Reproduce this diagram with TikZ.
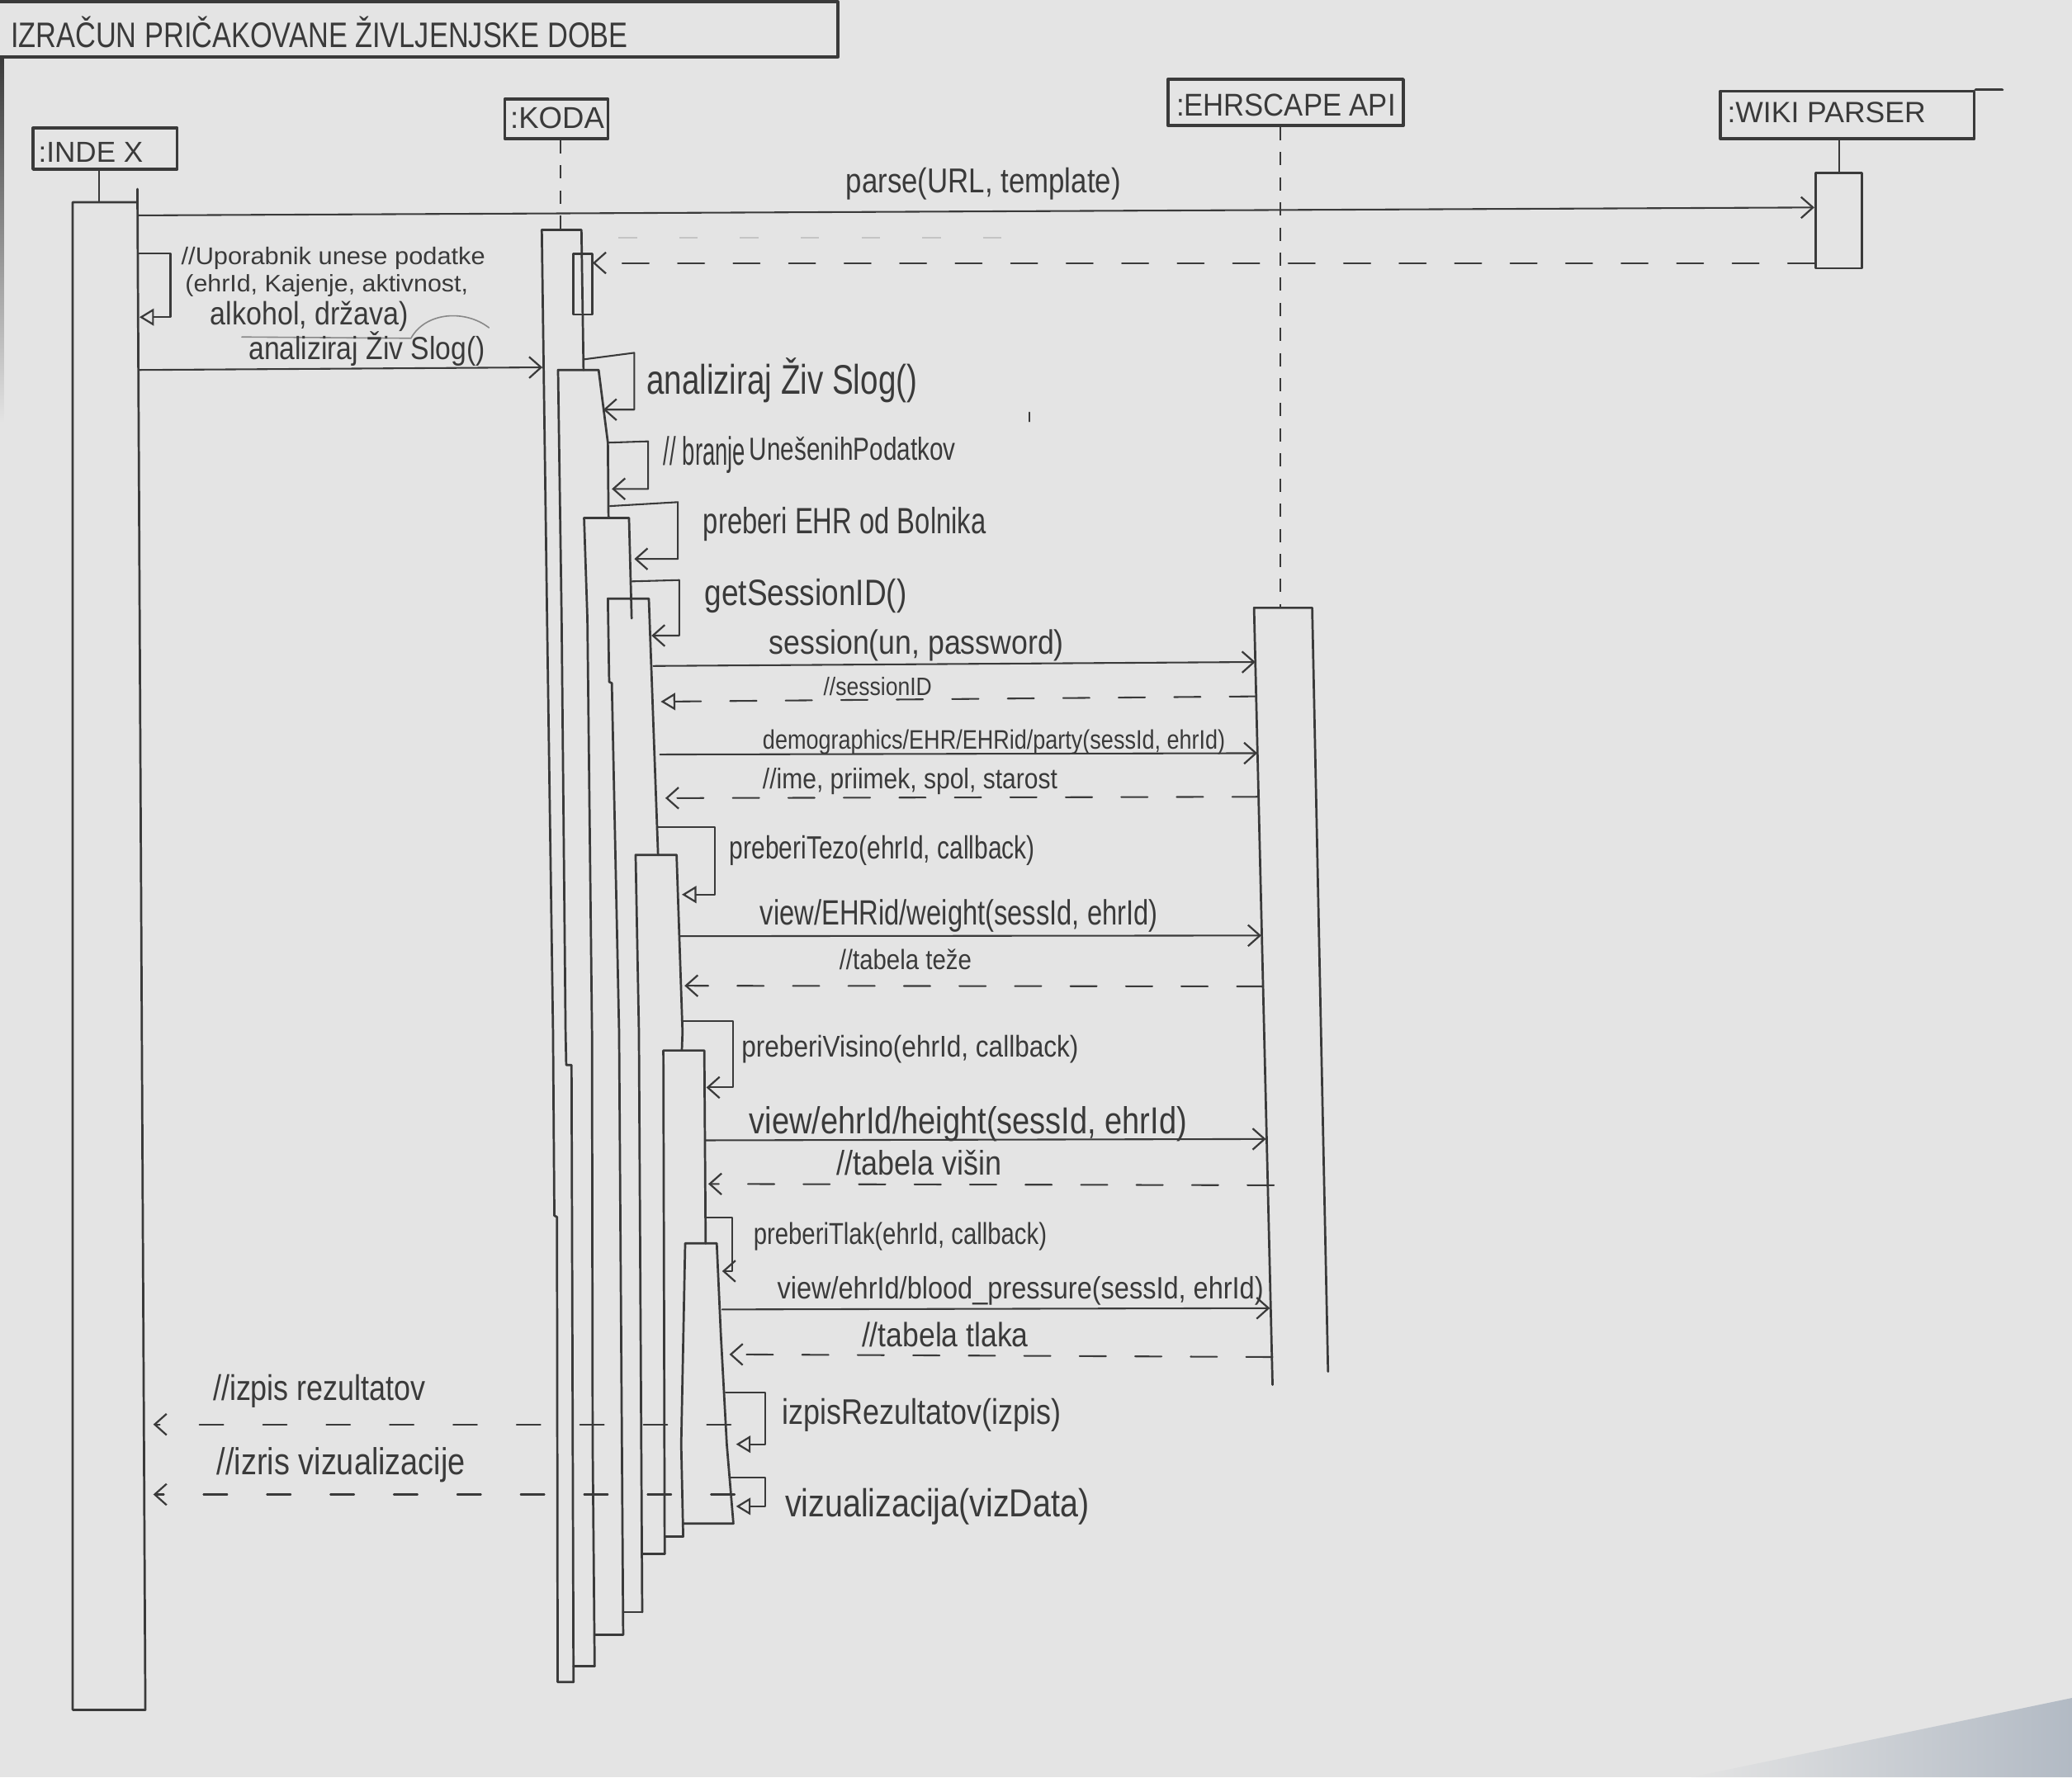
\documentclass[tikz,border=0pt]{standalone}
\usepackage{fontspec}
\setmainfont{Liberation Sans}
\usepackage{graphicx}
\usetikzlibrary{arrows.meta}
\definecolor{paper}{RGB}{228,228,228}
\definecolor{inkc}{RGB}{58,58,58}
\definecolor{faintc}{RGB}{196,196,196}
\definecolor{smudge}{RGB}{178,186,196}
% hand-lettered label: fitted to a width, stretched upright
\newcommand{\hw}[3]{\resizebox{#1pt}{!}{\scalebox{1}[#2]{#3}}}

\begin{document}
\begin{tikzpicture}[x=1pt,y=-1pt,
  font=\fontsize{20}{24}\selectfont,
  ink/.style={draw=inkc,line width=1.7pt,line cap=round,line join=round},
  head/.style={draw=inkc,line width=2.3pt,line join=round,inner sep=0pt},
  lbl/.style={inner sep=0pt,anchor=base west,text=inkc},
  barb/.style={-{Straight Barb[length=9pt,width=16pt,line width=1.4pt]}},
  tri/.style={-{Triangle[open,length=11pt,width=13pt,line width=1.4pt]}},
  msg/.style={draw=inkc,line width=1.3pt,line cap=round,line join=round},
  ret/.style={msg,dash pattern=on 20pt off 22pt},
  retb/.style={msg,dash pattern=on 18pt off 30pt},
  life/.style={draw=inkc,line width=1.5pt,dash pattern=on 10pt off 9pt},
]
\fill[paper] (0,0) rectangle (1568,1345);
\useasboundingbox (0,0) rectangle (1568,1345);
\shade[left color=paper,right color=smudge] (1280,1345) -- (1568,1285) -- (1568,1345) -- cycle;
\shade[top color=inkc,bottom color=paper] (0,44) rectangle (3,320);

% ---- title frame ----
\draw[ink,line width=2.4pt] (0,1.5) -- (634,1.5) -- (634,43) -- (0,43);
\node[lbl] (title) at (8,36) {\hw{467}{1.25}{IZRAČUN PRIČAKOVANE ŽIVLJENJSKE DOBE}};

% ---- lifeline heads ----
\node[head,minimum width=109pt,minimum height=31pt] (index) at (79.5,112.5) {};
\node[lbl] (indexT) at (29,123) {\hw{79}{1.0}{:INDE X}};
\node[head,minimum width=78pt,minimum height=30pt] (koda) at (421,90) {};
\node[lbl] (kodaT) at (386,97) {\hw{71}{1.0}{:KODA}};
\node[head,minimum width=178pt,minimum height=35pt] (ehr) at (973,77.5) {};
\node[lbl] (ehrT) at (890,88) {\hw{166}{1.1}{:EHRSCAPE API}};
\node[head,minimum width=192pt,minimum height=36pt] (wiki) at (1398,87) {};
\node[lbl] (wikiT) at (1307,93) {\hw{150}{1.0}{:WIKI PARSER}};
\draw[ink,line width=2.3pt] (wiki.north east) -- ++(20,0);

% ---- lifelines ----
\coordinate (indexTop) at (75,153);
\coordinate (kodaTop) at (424,174);
\coordinate (ehrTop) at (969,460);
\coordinate (wikiTop) at (1392,131);
\draw[msg] (index.south -| indexTop) -- (indexTop);
\draw[life] (koda.south -| kodaTop) -- (kodaTop);
\draw[life] (ehr.south -| ehrTop) -- (ehrTop);
\draw[msg] (wiki.south -| wikiTop) -- (wikiTop);

% ---- activation bars ----
% index
\draw[ink] (104,143) -- (110,1294) -- (55,1294) -- (55,153) -- (104,153);
% wiki parser
\draw[ink] (1374,131) rectangle (1409,203);
% ehrscape
\draw[ink] (963,1048) -- (949,460) -- (993,460) -- (1005,1038);
% koda: nested bars, each right edge ends where the next bar starts
\draw[ink] (441.6,280) -- (440,174) -- (410,174) -- (414,468) -- (418.5,781) -- (419.5,920) -- (421.5,921) -- (422,1273) -- (434,1273);
\draw[ink] (434,192) rectangle (448,238);
\draw[ink] (460.5,392) -- (460,335) -- (453,280) -- (422.3,280) -- (425,468) -- (428,781) -- (428.5,806) -- (432.5,806) -- (434,1273);
\draw[ink] (434,1261) -- (450,1261);
\draw[ink] (478,468) -- (476,392) -- (442,392) -- (444.5,468) -- (448,781) -- (448.5,1093) -- (450,1261);
\draw[ink] (450,1237) -- (471.6,1237);
\draw[ink] (498,647) -- (491,453) -- (460,453) -- (461,516) -- (463,517) -- (468.5,781) -- (471.6,1237);
\draw[ink] (471.6,1220) -- (486,1220);
\draw[ink] (516,795) -- (516.5,781) -- (512,647) -- (481,647) -- (483.5,781) -- (486,1220);
\draw[ink] (486,1176) -- (503,1176);
\draw[ink] (534,941) -- (533,795) -- (502,795) -- (503,1176);
\draw[ink] (503,1163) -- (517,1163);
\draw[ink] (517,1163) -- (515.5,1093) -- (518.5,941) -- (542.4,941) -- (545.5,1010) -- (550,1093) -- (555,1153) -- (517,1153);

% ---- message end points ----
\coordinate (iParse) at (104.5,163);
\coordinate (wParse) at (1373,157);
\coordinate (wRet) at (1373,199);
\coordinate (kRet) at (448.5,199);
\coordinate (iAnal) at (105,280);
\coordinate (kAnal) at (410.5,278);
\coordinate (iSelfA) at (104.5,192);
\coordinate (iSelfB) at (105.5,240);
\coordinate (kS1a) at (441.5,272);   \coordinate (kS1b) at (456.5,310);
\coordinate (kS2a) at (460.3,335);   \coordinate (kS2b) at (463,370);
\coordinate (kS3a) at (461.5,383);   \coordinate (kS3b) at (480,423);
\coordinate (kS4a) at (477.5,440);   \coordinate (kS4b) at (493,481);
\coordinate (kS5a) at (497.5,626);   \coordinate (kS5b) at (516,677);
\coordinate (kS6a) at (516,773);     \coordinate (kS6b) at (534.5,823);
\coordinate (kS7a) at (535,921.5);   \coordinate (kS7b) at (546.5,962);
\coordinate (kS8a) at (549,1054);    \coordinate (kS8b) at (557,1093);
\coordinate (kS9a) at (552.5,1118);  \coordinate (kS9b) at (557,1140);
\coordinate (kSess) at (494.5,504);  \coordinate (eSess) at (950,501);
\coordinate (eSid) at (950.5,527);   \coordinate (kSid) at (500,531);
\coordinate (kDemo) at (499.5,571);  \coordinate (eDemo) at (951.5,570);
\coordinate (eIme) at (952.5,603);   \coordinate (kIme) at (503.5,604);
\coordinate (kWei) at (514.5,708.5); \coordinate (eWei) at (954.5,708);
\coordinate (eTez) at (956,746.5);   \coordinate (kTez) at (518,746);
\coordinate (kHei) at (534,863);     \coordinate (eHei) at (958,862);
\coordinate (eVis) at (964,897);     \coordinate (kVis) at (536,896);
\coordinate (kBp) at (546.5,991);    \coordinate (eBp) at (961,990);
\coordinate (eTla) at (963,1027);    \coordinate (kTla) at (552,1025);
\coordinate (kIzp) at (553,1078);    \coordinate (iIzp) at (116,1078);
\coordinate (kIzr) at (556,1131);    \coordinate (iIzr) at (116,1131);

% ---- messages ----
\draw[msg,barb] (iParse) -- (wParse);
\draw[faintc,line width=1.3pt,dash pattern=on 14pt off 32pt] (468,180) -- (790,180);
\draw[ret,barb] (wRet) -- (kRet);
\draw[msg,tri] (iSelfA) -- (129,192) |- (iSelfB);
\draw[msg,barb] (iAnal) -- (kAnal);
\draw[msg,barb] (kS1a) -- (480,267) |- (kS1b);
\draw[msg,barb] (kS2a) -- (490.5,334) |- (kS2b);
\draw[msg,barb] (kS3a) -- (513,380) |- (kS3b);
\draw[msg,barb] (kS4a) -- (514,439) |- (kS4b);
\draw[msg,barb] (kSess) -- (eSess);
\draw[ret,tri] (eSid) -- (kSid);
\draw[msg,barb] (kDemo) -- (eDemo);
\draw[ret,barb] (eIme) -- (kIme);
\draw[msg,tri] (kS5a) -- (541,626) |- (kS5b);
\draw[msg,barb] (kWei) -- (eWei);
\draw[ret,barb] (eTez) -- (kTez);
\draw[msg,barb] (kS6a) -- (555,773) |- (kS6b);
\draw[msg,barb] (kHei) -- (eHei);
\draw[ret,barb] (eVis) -- (kVis);
\draw[msg,barb] (kS7a) -- (554,921.5) |- (kS7b);
\draw[msg,barb] (kBp) -- (eBp);
\draw[ret,barb] (eTla) -- (kTla);
\draw[msg,tri] (kS8a) -- (579,1054) |- (kS8b);
\draw[retb,barb] (kIzp) -- (iIzp);
\draw[msg,tri] (kS9a) -- (579,1118) |- (kS9b);
\draw[retb,barb] (kIzr) -- (iIzr);

% pencil strokes under the user input note
\draw[msg,draw=inkc!60,line width=1pt] (183,255) -- (311,256) .. controls (322,236) and (352,234) .. (370,248);
\draw[msg,line width=1pt] (779,312) -- (779,319);

% ---- labels ----
\node[lbl] (lParse) at (640,146) {\hw{208}{1.2}{parse(URL, template)}};
\node[lbl] (lUp1) at (137,200) {\hw{230}{0.95}{//Uporabnik unese podatke}};
\node[lbl] (lUp2) at (140,221) {\hw{214}{0.95}{(ehrId, Kajenje, aktivnost,}};
\node[lbl] (lUp3) at (159,246) {\hw{150}{1.15}{alkohol, država)}};
\node[lbl] (lAnal) at (188,272) {\hw{179}{1.15}{analiziraj Živ Slog()}};
\node[lbl] (lS1) at (489,298) {\hw{205}{1.3}{analiziraj Živ Slog()}};
\node[lbl] (lS2a) at (502,352) {\hw{62}{1.75}{// branje}};
\node[lbl] (lS2b) at (567,348) {\hw{156}{1.3}{UnešenihPodatkov}};
\node[lbl] (lS3) at (532,404) {\hw{214}{1.35}{preberi EHR od Bolnika}};
\node[lbl] (lS4) at (533,458) {\hw{153}{1.2}{getSessionID()}};
\node[lbl] (lSess) at (582,495) {\hw{223}{1.15}{session(un, password)}};
\node[lbl] (lSid) at (623,526) {\hw{82}{1.15}{//sessionID}};
\node[lbl] (lDemo) at (577,567) {\hw{350}{1.2}{demographics/EHR/EHRid/party(sessId, ehrId)}};
\node[lbl] (lIme) at (577,597) {\hw{223}{1.15}{//ime, priimek, spol, starost}};
\node[lbl] (lS5) at (552,650) {\hw{231}{1.3}{preberiTezo(ehrId, callback)}};
\node[lbl] (lWei) at (575,700) {\hw{301}{1.3}{view/EHRid/weight(sessId, ehrId)}};
\node[lbl] (lTez) at (635,734) {\hw{100}{1.15}{//tabela teže}};
\node[lbl] (lS6) at (561,800) {\hw{255}{1.15}{preberiVisino(ehrId, callback)}};
\node[lbl] (lHei) at (567,858) {\hw{331}{1.2}{view/ehrId/height(sessId, ehrId)}};
\node[lbl] (lVis) at (633,889) {\hw{125}{1.15}{//tabela višin}};
\node[lbl] (lS7) at (570,942) {\hw{222}{1.25}{preberiTlak(ehrId, callback)}};
\node[lbl] (lBp) at (588,983) {\hw{368}{1.15}{view/ehrId/blood\_pressure(sessId, ehrId)}};
\node[lbl] (lTla) at (652,1019) {\hw{126}{1.15}{//tabela tlaka}};
\node[lbl] (lS8) at (592,1078) {\hw{211}{1.2}{izpisRezultatov(izpis)}};
\node[lbl] (lIzp) at (161,1060) {\hw{161}{1.2}{//izpis rezultatov}};
\node[lbl] (lIzr) at (164,1116) {\hw{188}{1.2}{//izris vizualizacije}};
\node[lbl] (lS9) at (594,1148) {\hw{230}{1.2}{vizualizacija(vizData)}};
\end{tikzpicture}
\end{document}
